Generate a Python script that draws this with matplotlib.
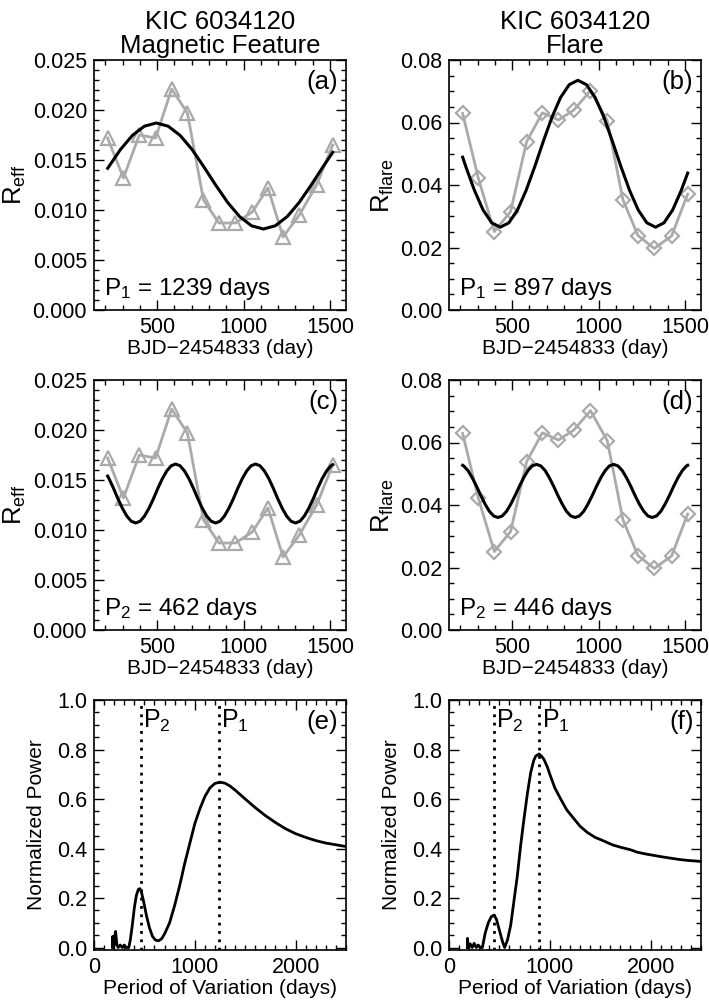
import matplotlib
matplotlib.use("Agg")
import matplotlib.pyplot as plt
from matplotlib.ticker import MultipleLocator

plt.rcParams["font.family"] = ["Liberation Sans", "DejaVu Sans"]
plt.rcParams["mathtext.fontset"] = "custom"
plt.rcParams["mathtext.rm"] = "Liberation Sans"
plt.rcParams["mathtext.it"] = "Liberation Sans"

# observation times (quarter mid points), BJD-2454833
t_obs = [214, 305, 397, 491, 584, 675, 768, 857, 953, 1050, 1141, 1228, 1322, 1422, 1515]
r_eff = [0.0172, 0.0132, 0.0175, 0.0172, 0.0221, 0.0197, 0.0110, 0.0087, 0.0087,
         0.0098, 0.0122, 0.0073, 0.0095, 0.0125, 0.0165]
r_flare = [0.0629, 0.0421, 0.0251, 0.0315, 0.0539, 0.0631, 0.0608, 0.0640, 0.0702,
           0.0606, 0.0352, 0.0238, 0.0197, 0.0237, 0.0371]

# fitted curves
fit_a_t = [214, 220, 288, 357, 426, 495, 564, 633, 702, 770, 839, 908, 977, 1046,
           1114, 1183, 1252, 1321, 1390, 1459, 1515]
fit_a_y = [0.01417, 0.01432, 0.01605, 0.01746, 0.01838, 0.01870, 0.01838, 0.01746,
           0.01605, 0.01432, 0.01248, 0.01075, 0.00934, 0.00842, 0.00810, 0.00842,
           0.00934, 0.01075, 0.01248, 0.01432, 0.01576]

fit_b_t = [214, 232, 282, 332, 382, 432, 481, 531, 581, 631, 681, 731, 780, 830, 880,
           930, 980, 1030, 1079, 1129, 1179, 1229, 1279, 1329, 1378, 1428, 1478, 1515]
fit_b_y = [0.0489, 0.0459, 0.0383, 0.0320, 0.0279, 0.0265, 0.0279, 0.0320, 0.0383,
           0.0459, 0.0541, 0.0618, 0.0680, 0.0721, 0.0735, 0.0721, 0.0680, 0.0618,
           0.0541, 0.0459, 0.0383, 0.0320, 0.0279, 0.0265, 0.0279, 0.0320, 0.0383, 0.0438]

fit_c_t = [214, 222, 248, 273, 299, 325, 350, 376, 402, 427, 453, 479, 504, 530, 556,
           581, 607, 633, 658, 684, 710, 735, 761, 787, 812, 838, 864, 889, 915, 941,
           966, 992, 1018, 1043, 1069, 1095, 1120, 1146, 1172, 1197, 1223, 1249, 1274,
           1300, 1326, 1351, 1377, 1403, 1428, 1454, 1480, 1505, 1515]
fit_c_y = [0.01539, 0.01513, 0.01416, 0.01314, 0.01218, 0.01139, 0.01088, 0.01070,
           0.01088, 0.01139, 0.01218, 0.01314, 0.01416, 0.01513, 0.01591, 0.01642,
           0.01660, 0.01642, 0.01591, 0.01513, 0.01416, 0.01314, 0.01218, 0.01139,
           0.01088, 0.01070, 0.01088, 0.01139, 0.01218, 0.01314, 0.01416, 0.01513,
           0.01591, 0.01642, 0.01660, 0.01642, 0.01591, 0.01513, 0.01416, 0.01314,
           0.01218, 0.01139, 0.01088, 0.01070, 0.01088, 0.01139, 0.01218, 0.01314,
           0.01416, 0.01513, 0.01591, 0.01642, 0.01653]

fit_d_t = [214, 220, 245, 269, 294, 319, 344, 368, 393, 418, 443, 468, 492, 517, 542,
           567, 591, 616, 641, 666, 691, 715, 740, 765, 790, 814, 839, 864, 889, 914,
           938, 963, 988, 1013, 1038, 1062, 1087, 1112, 1137, 1161, 1186, 1211, 1236,
           1261, 1285, 1310, 1335, 1360, 1384, 1409, 1434, 1459, 1484, 1508, 1515]
fit_d_y = [0.0527, 0.0525, 0.0510, 0.04875, 0.0460, 0.0430, 0.04025, 0.0380, 0.0365,
           0.0360, 0.0365, 0.0380, 0.04025, 0.0430, 0.0460, 0.04875, 0.0510, 0.0525,
           0.0530, 0.0525, 0.0510, 0.04875, 0.0460, 0.0430, 0.04025, 0.0380, 0.0365,
           0.0360, 0.0365, 0.0380, 0.04025, 0.0430, 0.0460, 0.04875, 0.0510, 0.0525,
           0.0530, 0.0525, 0.0510, 0.04875, 0.0460, 0.0430, 0.04025, 0.0380, 0.0365,
           0.0360, 0.0365, 0.0380, 0.04025, 0.0430, 0.0460, 0.04875, 0.0510, 0.0525,
           0.0527]

# periodograms
per_e = [184, 186, 190, 200, 208, 214, 220, 228, 240, 260, 280, 300, 320, 345, 360,
         380, 400, 420, 440, 455, 470, 490, 520, 550, 580, 610, 640, 670, 700, 750,
         800, 850, 900, 950, 1000, 1050, 1100, 1150, 1200, 1250, 1300, 1350, 1400,
         1500, 1600, 1700, 1800, 1900, 2000, 2100, 2200, 2300, 2400, 2500]
pow_e = [0.0, 0.045, 0.0, 0.01, 0.05, 0.065, 0.04, 0.01, 0.0, 0.01, 0.0, 0.01, 0.0,
         0.0, 0.03, 0.09, 0.16, 0.21, 0.235, 0.238, 0.225, 0.19, 0.13, 0.08, 0.045,
         0.03, 0.027, 0.035, 0.055, 0.10, 0.17, 0.25, 0.34, 0.42, 0.50, 0.56, 0.61,
         0.645, 0.663, 0.668, 0.664, 0.652, 0.636, 0.60, 0.565, 0.533, 0.505, 0.48,
         0.46, 0.445, 0.432, 0.422, 0.415, 0.408]

per_f = [182, 184, 190, 210, 230, 250, 270, 290, 310, 331, 360, 390, 420, 446, 470,
         500, 530, 552, 580, 612, 645, 678, 710, 744, 777, 810, 840, 860, 893, 920,
         942, 975, 1009, 1050, 1108, 1170, 1240, 1300, 1372, 1450, 1538, 1620, 1703,
         1800, 1868, 1950, 2034, 2120, 2199, 2280, 2364, 2430, 2500]
pow_f = [0.0, 0.037, 0.0, 0.015, 0.0, 0.017, 0.0, 0.01, 0.0, 0.0, 0.06, 0.10, 0.125,
         0.131, 0.115, 0.07, 0.025, 0.0, 0.03, 0.09, 0.19, 0.29, 0.41, 0.52, 0.62,
         0.706, 0.755, 0.773, 0.782, 0.772, 0.76, 0.73, 0.69, 0.645, 0.60, 0.555, 0.52,
         0.49, 0.465, 0.445, 0.43, 0.415, 0.405, 0.395, 0.385, 0.378, 0.372, 0.366,
         0.361, 0.356, 0.352, 0.35, 0.348]

periods_e = [1239, 462]
periods_f = [897, 446]

grey = "#aaaaaa"
W, H = 709, 1007
fig = plt.figure(figsize=(W / 100, H / 100), dpi=100)


def make_axes(left, top):
    ax = fig.add_axes([left / W, 1 - (top + 250) / H, 252 / W, 250 / H])
    ax.tick_params(which="both", direction="in", top=True, right=True,
                   labelsize=15.5, width=1.0)
    ax.tick_params(which="major", length=7, pad=5)
    ax.tick_params(which="minor", length=3.5)
    for s in ax.spines.values():
        s.set_linewidth(1.2)
    return ax


def time_panel(ax, t, y, marker, ms, ft, fy, ylim, major, minor, ylabel, label, ptxt, yfmt):
    ax.plot(t, y, color=grey, lw=2, marker=marker, ms=ms, mfc="none", mec=grey, mew=1.6)
    ax.plot(ft, fy, color="black", lw=2.2)
    ax.set_xlim(135, 1592)
    ax.set_ylim(*ylim)
    ax.xaxis.set_major_locator(MultipleLocator(500))
    ax.xaxis.set_minor_locator(MultipleLocator(100))
    ax.yaxis.set_major_locator(MultipleLocator(major))
    ax.yaxis.set_minor_locator(MultipleLocator(minor))
    ax.yaxis.set_major_formatter(yfmt)
    ax.set_xlabel("BJD\u22122454833 (day)", fontsize=15, labelpad=1)
    ax.set_ylabel(ylabel, fontsize=18.5, labelpad=3)
    ax.text(0.97, 0.91, label, transform=ax.transAxes, ha="right", va="center", fontsize=18.5)
    ax.text(0.04, 0.085, ptxt, transform=ax.transAxes, ha="left", va="center", fontsize=17.5)


def power_panel(ax, per, pw, periods, label):
    ax.plot(per, pw, color="black", lw=2)
    ax.set_xlim(0, 2500)
    ax.set_ylim(-0.01, 1.0)
    for p, name in zip(periods, ["P$_1$", "P$_2$"]):
        ax.axvline(p, color="black", ls=(0, (1, 2)), lw=2)
        ax.text(p + 25, 0.915, name, fontsize=18, ha="left", va="center")
    ax.xaxis.set_major_locator(MultipleLocator(1000))
    ax.xaxis.set_minor_locator(MultipleLocator(100))
    ax.yaxis.set_major_locator(MultipleLocator(0.2))
    ax.yaxis.set_minor_locator(MultipleLocator(0.05))
    ax.yaxis.set_major_formatter("{x:.1f}")
    ax.set_xlabel("Period of Variation (days)", fontsize=15, labelpad=1)
    ax.set_ylabel("Normalized Power", fontsize=15, labelpad=8)
    ax.text(0.97, 0.91, label, transform=ax.transAxes, ha="right", va="center", fontsize=18.5)


ax_a = make_axes(94, 60)
time_panel(ax_a, t_obs, r_eff, "^", 10, fit_a_t, fit_a_y, (0, 0.025), 0.005, 0.001,
           "R$_{\\rm eff}$", "(a)", "P$_1$ = 1239 days", "{x:.3f}")
ax_a.set_title("KIC 6034120\nMagnetic Feature", fontsize=18.5, linespacing=1.0, pad=5)

ax_b = make_axes(449, 60)
time_panel(ax_b, t_obs, r_flare, "D", 7.5, fit_b_t, fit_b_y, (0, 0.08), 0.02, 0.005,
           "R$_{\\rm flare}$", "(b)", "P$_1$ = 897 days", "{x:.2f}")
ax_b.set_title("KIC 6034120\nFlare", fontsize=18.5, linespacing=1.0, pad=5)

ax_c = make_axes(94, 380)
time_panel(ax_c, t_obs, r_eff, "^", 10, fit_c_t, fit_c_y, (0, 0.025), 0.005, 0.001,
           "R$_{\\rm eff}$", "(c)", "P$_2$ = 462 days", "{x:.3f}")

ax_d = make_axes(449, 380)
time_panel(ax_d, t_obs, r_flare, "D", 7.5, fit_d_t, fit_d_y, (0, 0.08), 0.02, 0.005,
           "R$_{\\rm flare}$", "(d)", "P$_2$ = 446 days", "{x:.2f}")

ax_e = make_axes(94, 700)
power_panel(ax_e, per_e, pow_e, periods_e, "(e)")

ax_f = make_axes(449, 700)
power_panel(ax_f, per_f, pow_f, periods_f, "(f)")

fig.savefig("out.png", dpi=100)
